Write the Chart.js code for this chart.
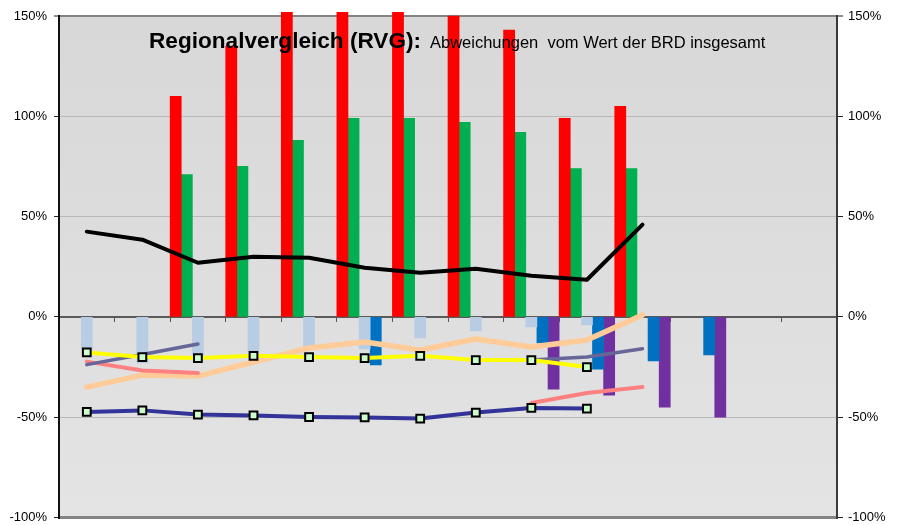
<!DOCTYPE html>
<html>
<head>
<meta charset="utf-8">
<script src="https://cdn.jsdelivr.net/npm/chart.js@4"></script>
<style>
  body { margin: 0; background: #fff; }
  canvas { display: block; }
</style>
</head>
<body>
<canvas id="chart" width="899" height="525"></canvas>
<script>
const categories = ['1', '2', '3', '4', '5', '6', '7', '8', '9', '10', '11', '12', '13', '14'];
const yTicks = [150, 100, 50, 0, -50, -100];

// bars (values in %)
const redBars = [null, null, 110, 135, 156, 156, 156, 150, 143, 99, 105, null, null, null];
const greenBars = [null, null, 71, 75, 88, 99, 99, 97, 92, 74, 74, null, null, null];
const lightBlueBars = [-16, -23, -19, -17, -15, -16, -10.5, -7, -5, -4, null, null, null, null];
const blueBars = [null, null, null, null, null, -24, null, null, -13, -26, -22, -19, null, null];
const purpleBars = [null, null, null, null, null, null, null, null, -36, -39, -45, -50, null, null];

// lines (values in %)
const blackLine = [42.5, 38.5, 27, 30, 29.5, 24.5, 22, 24, 20.5, 18.5, 46, null, null, null];
const yellowLine = [-17.7, -20, -20.5, -19.4, -20, -20.5, -19.4, -21.5, -21.5, -25, null, null, null, null];
const navyLine = [-47.4, -46.6, -48.7, -49.1, -49.9, -50.1, -50.7, -47.7, -45.4, -45.7, null, null, null, null];
const slateLine = [-23.8, -18.7, -13.5, null, null, null, null, null, -21.5, -20, -15.9, null, null, null];
const pinkLine = [-22.3, -26.7, -28, null, null, null, null, null, -42.9, -37.9, -34.9, null, null, null];
const peachLine = [-35, -29, -29.5, -22.5, -15.5, -12.5, -16.5, -11, -15, -11.5, 1, null, null, null];

const FONT = "'Liberation Sans', Arial, sans-serif";

function barSet(data, color) {
    return {
        type: 'bar', data, backgroundColor: color, order: 10,
        barPercentage: 1, categoryPercentage: 1,
        clip: { left: 0, top: 4, right: 0, bottom: 0 }
    };
}

function lineSet(data, color, width, order, markers) {
    return {
        type: 'line', data, borderColor: color, borderWidth: width, order,
        tension: 0, fill: false, spanGaps: false,
        borderCapStyle: 'round', borderJoinStyle: 'round',
        pointStyle: 'rect',
        pointRadius: markers ? 5.5 : 0,
        pointBackgroundColor: '#ccffcc',
        pointBorderColor: '#000',
        pointBorderWidth: 2
    };
}

const plotBackground = {
    id: 'plotBackground',
    beforeDraw(chart) {
        const { ctx, chartArea: a } = chart;
        const g = ctx.createLinearGradient(0, a.top, 0, a.bottom);
        g.addColorStop(0, '#d8d8d8');
        g.addColorStop(0.4, '#dcdcdc');
        g.addColorStop(1, '#e4e4e4');
        ctx.save();
        ctx.fillStyle = g;
        ctx.fillRect(a.left, a.top, a.right - a.left, a.bottom - a.top);
        ctx.restore();
    }
};

const titleText = {
    id: 'titleText',
    afterDraw(chart) {
        const ctx = chart.ctx;
        ctx.save();
        ctx.fillStyle = '#000';
        ctx.textBaseline = 'alphabetic';
        ctx.font = 'bold 22.6px ' + FONT;
        ctx.fillText('Regionalvergleich (RVG):', 149, 48);
        ctx.font = '16.5px ' + FONT;
        ctx.fillText('Abweichungen  vom Wert der BRD insgesamt', 430, 48);
        ctx.restore();
    }
};

function gridColor(c) {
    const v = c.tick && c.tick.value;
    if (v === 150 || v === -100) return '#848484';
    if (v === 0) return 'rgba(0,0,0,0)';
    return '#b9b9b9';
}

function gridWidth(c) {
    const v = c.tick && c.tick.value;
    if (v === -100) return 3;
    if (v === 150) return 2;
    return 1;
}

function yAxis(position, width, tickLen, pad, onArea) {
    return {
        position, min: -100, max: 150,
        afterBuildTicks: s => { s.ticks = yTicks.map(v => ({ value: v })); },
        afterFit: s => { s.width = width; s.paddingTop = 0; s.paddingBottom = 0; },
        ticks: {
            color: '#000', padding: pad,
            font: { family: FONT, size: 13 },
            callback: v => v + '%'
        },
        grid: {
            drawOnChartArea: onArea,
            color: gridColor, lineWidth: gridWidth,
            tickLength: tickLen, tickColor: '#222', tickWidth: 1
        },
        border: { color: position === 'left' ? '#111' : '#3a3a3a', width: 2 }
    };
}

function init() {
    new Chart(document.getElementById('chart'), {
        data: {
            labels: categories,
            datasets: [
                barSet(redBars, '#ff0000'),
                barSet(greenBars, '#00b050'),
                barSet(lightBlueBars, '#b8cce4'),
                barSet(blueBars, '#0070c0'),
                barSet(purpleBars, '#7030a0'),
                lineSet(peachLine, '#ffcc99', 5.5, 6, false),
                lineSet(pinkLine, '#ff8080', 4, 5, false),
                lineSet(slateLine, '#666699', 3.5, 4, false),
                lineSet(blackLine, '#000000', 4, 3, false),
                lineSet(yellowLine, '#ffff00', 4, 2, true),
                lineSet(navyLine, '#333399', 4, 1, true)
            ]
        },
        options: {
            responsive: false,
            animation: false,
            layout: { padding: { top: 16, bottom: 7, left: 0, right: 0 } },
            plugins: { legend: { display: false }, tooltip: { enabled: false } },
            scales: {
                x: {
                    type: 'category',
                    position: { y: 0 },
                    offset: true,
                    ticks: { display: false },
                    grid: { offset: true, drawOnChartArea: false, tickLength: 4, color: '#555' },
                    border: { color: '#5a5a5a', width: 2 },
                    afterFit: s => { s.height = 0; }
                },
                y: yAxis('left', 59, 5, 7, true),
                y2: yAxis('right', 62, 6, 5, false)
            }
        },
        plugins: [plotBackground, titleText]
    });
}

window.addEventListener('DOMContentLoaded', init);
</script>
</body>
</html>
